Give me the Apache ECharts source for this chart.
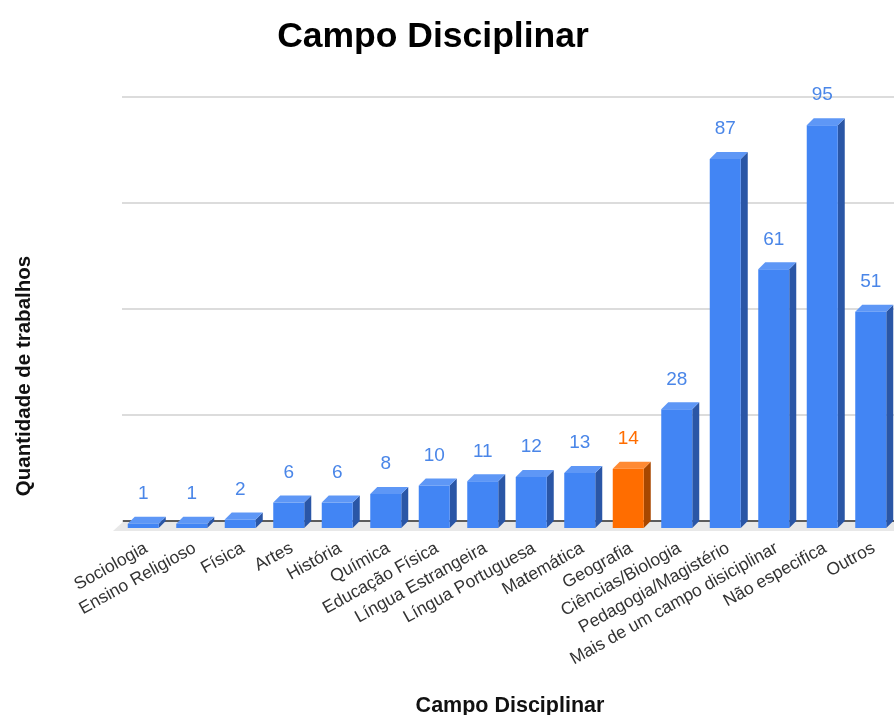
<!DOCTYPE html>
<html>
<head>
<meta charset="utf-8">
<script src="https://cdn.jsdelivr.net/npm/echarts@6/dist/echarts.min.js"></script>
<style>
  html, body { margin: 0; padding: 0; background: #fff; }
  #chart { width: 894px; height: 715px; }
</style>
</head>
<body>
<div id="chart"></div>
<script>
// Campo disciplinar dos trabalhos
const categories = [
  'Sociologia', 'Ensino Religioso', 'Física', 'Artes', 'História', 'Química',
  'Educação Física', 'Língua Estrangeira', 'Língua Portuguesa', 'Matemática',
  'Geografia', 'Ciências/Biologia', 'Pedagogia/Magistério',
  'Mais de um campo disiciplinar', 'Não especifica', 'Outros'
];
const quantidades = [1, 1, 2, 6, 6, 8, 10, 11, 12, 13, 14, 28, 87, 61, 95, 51];
const destaque = 'Geografia';
const yTicks = [0, 25, 50, 75, 100];

const FONT = '"Liberation Sans", Arial, Helvetica, sans-serif';
const palette = {
  normal: { front: '#4285F4', top: '#5E97F6', side: '#2A56A6', label: '#4A86E8' },
  hot:    { front: '#FF6D00', top: '#FF8A33', side: '#A84700', label: '#FF6D00' }
};

const DEPTH = 7;      // 3D depth offset (px)
const BAR_W = 31;     // front face width (px)

function renderBar3D(params, api) {
  const idx = api.value(0);
  const val = api.value(1);
  const back = api.coord([idx, val]);
  const base = api.coord([idx, 0]);
  const cx = back[0] - 3;
  const c = categories[idx] === destaque ? palette.hot : palette.normal;
  const x0 = cx - BAR_W / 2, x1 = cx + BAR_W / 2;
  const yTop = back[1] + DEPTH, yBot = base[1] + DEPTH;
  return {
    type: 'group',
    children: [
      { type: 'polygon', shape: { points: [[x1, yTop], [x1 + DEPTH, yTop - DEPTH], [x1 + DEPTH, yBot - DEPTH], [x1, yBot]] },
        style: { fill: c.side } },
      { type: 'polygon', shape: { points: [[x0, yTop], [x0 + DEPTH, yTop - DEPTH], [x1 + DEPTH, yTop - DEPTH], [x1, yTop]] },
        style: { fill: c.top } },
      { type: 'rect', shape: { x: x0, y: yTop, width: BAR_W, height: yBot - yTop },
        style: { fill: c.front } },
      { type: 'text', x: cx, y: back[1] - 23,
        style: { text: String(val), fill: c.label, font: '19px ' + FONT, align: 'center', verticalAlign: 'middle' } }
    ]
  };
}

const chart = echarts.init(document.getElementById('chart'));
chart.setOption({
  backgroundColor: '#fff',
  animation: false,
  title: {
    text: 'Campo Disciplinar',
    left: 428, top: 14, textAlign: 'center',
    textStyle: { fontFamily: FONT, fontSize: 35.5, fontWeight: 'bold', color: '#000' }
  },
  grid: { left: 122, right: -4, top: 97, bottom: 194, containLabel: false, outerBoundsMode: 'none' },
  graphic: [
    { type: 'polygon', z: 0,
      shape: { points: [[124, 521], [894, 521], [894, 531], [113, 531]] },
      style: { fill: '#E8E8E8' } },
    { type: 'line', z: 5,
      shape: { x1: 123, y1: 521, x2: 894, y2: 521 },
      style: { stroke: '#333', lineWidth: 1.5 } },
    { type: 'text', x: 24, y: 376, rotation: Math.PI / 2,
      style: { text: 'Quantidade de trabalhos', font: 'bold 20.5px ' + FONT, fill: '#111',
               align: 'center', verticalAlign: 'middle' } }
  ],
  xAxis: {
    type: 'category',
    data: categories,
    name: 'Campo Disciplinar',
    nameLocation: 'middle',
    nameGap: 174,
    nameTextStyle: { fontFamily: FONT, fontSize: 21.5, fontWeight: 'bold', color: '#111' },
    axisLine: { show: false },
    axisTick: { show: false },
    axisLabel: {
      interval: 0, rotate: 29, margin: 26,
      fontFamily: FONT, fontSize: 17.5, color: '#333'
    }
  },
  yAxis: {
    type: 'value',
    min: yTicks[0], max: yTicks[yTicks.length - 1], interval: yTicks[1] - yTicks[0],
    axisLine: { show: false },
    axisTick: { show: false },
    axisLabel: { show: false },
    splitLine: { lineStyle: { color: '#D0D0D0', width: 1.5 } }
  },
  series: [{
    type: 'custom',
    renderItem: renderBar3D,
    encode: { x: 0, y: 1 },
    data: quantidades.map((v, i) => [i, v]),
    z: 10
  }]
});
</script>
</body>
</html>
